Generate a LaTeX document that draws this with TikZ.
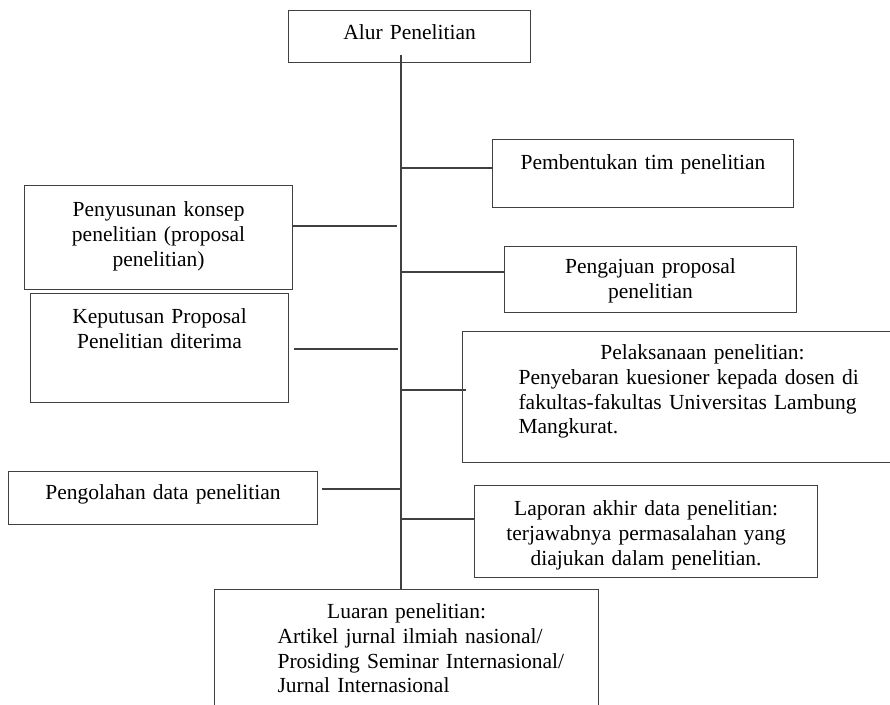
\documentclass[tikz,border=0pt]{standalone}
\usepackage{fontspec}
\setmainfont{Liberation Serif}
\usepackage{tikz}

\begin{document}
\begin{tikzpicture}[x=1pt,y=-1pt,
	box/.style={draw=black!75,line width=1.1pt,inner xsep=4pt,inner ysep=0pt,align=center,anchor=north west,font=\fontsize{21.5}{24.8}\selectfont},
	branch/.style={draw=black!75,line width=1.1pt}]
\clip (0,0) rectangle (890,704);
\def\spine{401}

%boxes
\node[box,text width=234pt,text height=29pt,text depth=23pt] (alur) at (288,10) {Alur Penelitian};
\node[box,text width=293pt,text height=30pt,text depth=38pt] (pembentukan) at (492,139) {Pembentukan tim penelitian};
\node[box,text width=260pt,text height=31pt,text depth=73pt] (penyusunan) at (24,185) {Penyusunan konsep\\penelitian (proposal\\penelitian)};
\node[box,text width=284pt,text height=27pt,text depth=39pt] (pengajuan) at (504,246) {Pengajuan proposal\\penelitian};
\node[box,text width=250pt,text height=30pt,text depth=79pt] (keputusan) at (30,293) {Keputusan Proposal\\Penelitian diterima};
\node[box,text width=472pt,text height=28pt,text depth=103pt,align=left] (pelaksanaan) at (462,331)
	{\makebox[472pt]{Pelaksanaan penelitian:}\\
	\hspace*{52pt}Penyebaran kuesioner kepada dosen di\\
	\hspace*{52pt}fakultas-fakultas Universitas Lambung\\
	\hspace*{52pt}Mangkurat.};
\node[box,text width=301pt,text height=28pt,text depth=25pt] (pengolahan) at (8,471) {Pengolahan data penelitian};
\node[box,text width=335pt,text height=30pt,text depth=62pt] (laporan) at (474,485) {Laporan akhir data penelitian:\\terjawabnya permasalahan yang\\diajukan dalam penelitian.};
\node[box,text width=376pt,text height=29pt,text depth=200pt,align=left] (luaran) at (214,589)
	{\makebox[376pt]{Luaran penelitian:}\\
	\hspace*{59pt}Artikel jurnal ilmiah nasional/\\
	\hspace*{59pt}Prosiding Seminar Internasional/\\
	\hspace*{59pt}Jurnal Internasional};

%spine
\coordinate (top) at (\spine,55);
\coordinate (bot) at (luaran.north -| top);
\draw[branch] (top) -- (bot);

%branches right
\foreach \n/\y in {pembentukan/168,pengajuan/272,laporan/519}{
	\coordinate (s\n) at (\spine,\y);
	\draw[branch] (s\n) -- (s\n -| \n.west);
}
\coordinate (spelaksanaan) at (\spine,390);
\draw[branch] (spelaksanaan) -- ([xshift=4pt]spelaksanaan -| pelaksanaan.west);

%branches left
\foreach \n/\y/\gap/\off in {penyusunan/226/0/4,keputusan/349/5/3,pengolahan/489/4/0}{
	\coordinate (s\n) at (\spine,\y);
	\draw[branch] ([xshift=-\off pt]s\n) -- ([xshift=\gap pt]s\n -| \n.east);
}
\end{tikzpicture}
\end{document}
